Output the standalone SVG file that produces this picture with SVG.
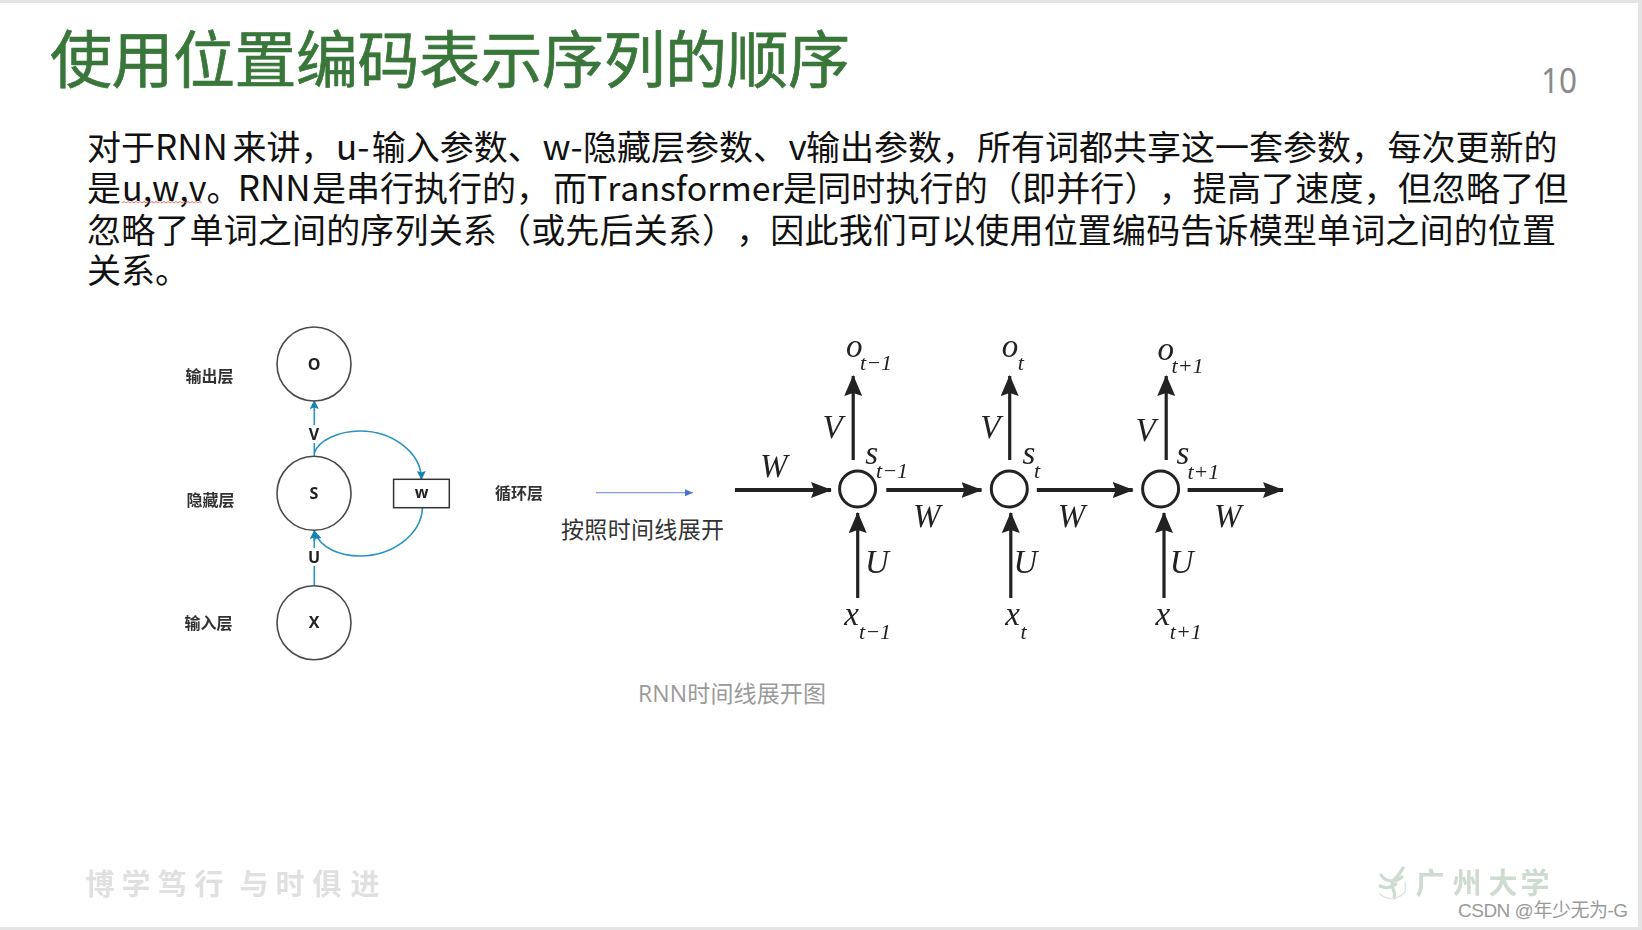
<svg xmlns="http://www.w3.org/2000/svg" width="1642" height="930" viewBox="0 0 1642 930">
<style>
text{font-family:"Liberation Sans","Noto Sans CJK SC",sans-serif}
.cjk{font-family:"Noto Sans CJK SC",sans-serif}
.body{font-size:34px;fill:#111;font-family:"Noto Sans CJK SC",sans-serif;text-spacing-trim:space-all;font-kerning:none}
.lat{font-size:35px}
.lay{font-size:16px;fill:#333;font-weight:700;font-family:"Noto Sans CJK SC",sans-serif;text-anchor:middle}
.cir{fill:#fff;stroke:#4a4a4a;stroke-width:1.6}
.nl{font-size:16px;fill:#222;text-anchor:middle;font-family:"Open Sans",sans-serif;font-weight:700}
.tl{fill:none;stroke:#2a92c2;stroke-width:1.6}
.bl{fill:none;stroke:#222;stroke-width:3.2}
.bh{fill:none;stroke:#222;stroke-width:3.8}
.rc{fill:#fff;stroke:#222;stroke-width:3}
.it{font-family:"Liberation Serif",serif;font-style:italic;fill:#222;text-anchor:middle}
.b{font-size:33px}.s{font-size:22px}
.wm{font-family:"Noto Sans CJK SC",sans-serif;font-weight:700;font-size:29px;fill:#e0e0e0;text-anchor:middle}
.gz{font-family:"Noto Sans CJK SC",sans-serif;font-weight:700;font-size:29px;fill:#cddbd0;text-anchor:middle}
</style>
<defs>
<marker id="at" markerUnits="userSpaceOnUse" markerWidth="10" markerHeight="10" refX="8" refY="4.5" orient="auto"><path d="M0 0L9 4.5L0 9L1.5 4.5z" fill="#1583b8"/></marker>
<marker id="ab" markerUnits="userSpaceOnUse" markerWidth="10" markerHeight="10" refX="8" refY="3.5" orient="auto"><path d="M0 0L8 3.5L0 7z" fill="#4a72cf"/></marker>
<marker id="ak" markerUnits="userSpaceOnUse" markerWidth="24" markerHeight="20" refX="20" refY="9" orient="auto"><path d="M0 0L21 9L0 18L3 9z" fill="#222"/></marker>
<marker id="ah" markerUnits="userSpaceOnUse" markerWidth="24" markerHeight="20" refX="20" refY="8" orient="auto"><path d="M0 0L21 8L0 16L3 8z" fill="#222"/></marker>
<filter id="soft" x="-5%" y="-5%" width="110%" height="110%"><feGaussianBlur stdDeviation="0.45"/></filter>
</defs>
<rect width="1642" height="930" fill="#e4e4e4"/>
<rect x="0" y="3" width="1638" height="924" fill="#fff"/>

<text class="cjk" x="50" y="83" font-size="62" fill="#39763a" stroke="#39763a" stroke-width="0.7" textLength="800" lengthAdjust="spacing">使用位置编码表示序列的顺序</text>
<text x="1541" y="93" font-size="34" fill="#8a8a8a" textLength="36" lengthAdjust="spacingAndGlyphs" style="font-family:'Noto Sans',sans-serif">10</text>

<text class="body" y="160"><tspan x="87">对于</tspan><tspan class="lat" x="155">RNN</tspan><tspan x="232.5">来讲，</tspan><tspan class="lat" x="336">u-</tspan><tspan x="371.8">输入参数、</tspan><tspan class="lat" x="542.5">w-</tspan><tspan x="583">隐藏层参数、</tspan><tspan class="lat" x="788.5">v</tspan><tspan x="806">输出参数，</tspan><tspan x="977">所有词都共享这一套参数，</tspan><tspan x="1387.5">每次更新的</tspan></text>
<text class="body" y="201"><tspan x="87">是</tspan><tspan x="122">u,w,v。</tspan><tspan class="lat" x="237.7">RNN</tspan><tspan x="312">是串行执行的，</tspan><tspan x="553">而</tspan><tspan x="587" font-size="33.8">Transformer</tspan><tspan x="783" letter-spacing="0.15">是同时执行的（即并行），提高了速度，但忽略了但</tspan></text>
<text class="body" x="87" y="243" textLength="1469" lengthAdjust="spacing">忽略了单词之间的序列关系（或先后关系），因此我们可以使用位置编码告诉模型单词之间的位置</text>
<text class="body" x="87" y="283">关系。</text>
<path d="M122 203l2-1.5 2 1.5 2-1.5 2 1.5 2-1.5 2 1.5 2-1.5 2 1.5 2-1.5 2 1.5 2-1.5 2 1.5 2-1.5 2 1.5 2-1.5 2 1.5 2-1.5 2 1.5 2-1.5 2 1.5 2-1.5 2 1.5 2-1.5 2 1.5 2-1.5 2 1.5 2-1.5 2 1.5 2-1.5 2 1.5 2-1.5 2 1.5 2-1.5 2 1.5 2-1.5 2 1.5 2-1.5 2 1.5 2-1.5 2 1.5" fill="none" stroke="#e05050" stroke-width="0.8"/>

<g filter="url(#soft)">
<g id="connectors-rnn">
<path class="tl" d="M314.3 425V401" marker-end="url(#at)"/>
<path class="tl" d="M314.3 456V443"/>
<path class="tl" d="M314.3 453C318 441 338 431 360 431C392 431 421 452 421.4 479" marker-end="url(#at)"/>
<path class="tl" d="M422.5 508C421 535 392 556 360 556C340 556 320 548 315 532" marker-end="url(#at)"/>
<path class="tl" d="M314.3 586V566"/>
<path class="tl" d="M314.3 548V531" marker-end="url(#at)"/>
<path d="M596 492.7H693" fill="none" stroke="#7f9fe0" stroke-width="1.3" marker-end="url(#ab)"/>
</g>
<g id="node-o"><circle class="cir" cx="314" cy="364" r="37"/><text class="nl" x="314" y="369.5">O</text></g>
<g id="node-s"><circle class="cir" cx="314" cy="493.3" r="37"/><text class="nl" x="314" y="498.5">S</text></g>
<g id="node-x"><circle class="cir" cx="314" cy="622.7" r="37"/><text class="nl" x="314" y="628">X</text></g>
<g id="node-w"><rect x="393.6" y="479.3" width="55.7" height="28.4" fill="#fff" stroke="#333" stroke-width="1.5"/><text class="nl" x="421.5" y="498">w</text></g>
<text class="nl" x="314" y="439.5">V</text>
<text class="nl" x="314" y="562.5">U</text>
<text class="lay" x="209.5" y="382">输出层</text>
<text class="lay" x="210.5" y="506">隐藏层</text>
<text class="lay" x="208.5" y="629">输入层</text>
<text class="lay" x="519" y="498.5">循环层</text>
</g>
<text class="cjk" x="561" y="538" font-size="23" fill="#333" textLength="163" lengthAdjust="spacing">按照时间线展开</text>
<text x="638" y="702" font-size="23" fill="#9a9a9a" textLength="188" lengthAdjust="spacing" style="font-family:'Open Sans','Noto Sans CJK SC',sans-serif">RNN时间线展开图</text>

<g filter="url(#soft)">
<g id="connectors-unrolled">
<path class="bh" d="M735 490H831" marker-end="url(#ah)"/>
<path class="bh" d="M886.3 490H981.5" marker-end="url(#ah)"/>
<path class="bh" d="M1036.8 490H1132.7" marker-end="url(#ah)"/>
<path class="bh" d="M1187.6 490H1283" marker-end="url(#ah)"/>
<path class="bl" d="M853.2 460V376" marker-end="url(#ak)"/>
<path class="bl" d="M1009.7 460V376" marker-end="url(#ak)"/>
<path class="bl" d="M1166.2 460V376" marker-end="url(#ak)"/>
<path class="bl" d="M857.7 598V513" marker-end="url(#ak)"/>
<path class="bl" d="M1010.8 598V513" marker-end="url(#ak)"/>
<path class="bl" d="M1164 598V513" marker-end="url(#ak)"/>
</g>
<g id="node-s1"><circle class="rc" cx="857.6" cy="489" r="18"/></g>
<g id="node-s2"><circle class="rc" cx="1009.3" cy="489" r="18"/></g>
<g id="node-s3"><circle class="rc" cx="1160.6" cy="489" r="18"/></g>
<g class="it">
<text class="it b" x="773.7" y="477">W</text><text class="it b" x="926.8" y="527">W</text><text class="it b" x="1071.6" y="527">W</text><text class="it b" x="1227.8" y="527">W</text>
<text class="it b" x="832.6" y="438">V</text><text class="it b" x="990.3" y="438">V</text><text class="it b" x="1145.5" y="441">V</text>
<text class="it b" x="876.9" y="573">U</text><text class="it b" x="1025.4" y="573">U</text><text class="it b" x="1181.6" y="573">U</text>
<text class="it b" x="854.3" y="357">o</text><text class="it s" x="876" y="369.5">t−1</text>
<text class="it b" x="1010" y="357">o</text><text class="it s" x="1020.9" y="369.5">t</text>
<text class="it b" x="1165.7" y="360">o</text><text class="it s" x="1187.6" y="372.5">t+1</text>
<text class="it b" x="871.6" y="464">s</text><text class="it s" x="892" y="477.5">t−1</text>
<text class="it b" x="1029" y="464">s</text><text class="it s" x="1037" y="477.5">t</text>
<text class="it b" x="1182.8" y="464">s</text><text class="it s" x="1203.4" y="478.5">t+1</text>
<text class="it b" x="851.7" y="625">x</text><text class="it s" x="875" y="639">t−1</text>
<text class="it b" x="1012.7" y="625">x</text><text class="it s" x="1023.6" y="639">t</text>
<text class="it b" x="1162.8" y="625">x</text><text class="it s" x="1185.8" y="639">t+1</text>
</g>
</g>

<g filter="url(#soft)">
<text class="wm" x="100" y="895">博</text><text class="wm" x="136" y="895">学</text><text class="wm" x="172" y="895">笃</text><text class="wm" x="209" y="895">行</text><text class="wm" x="254" y="895">与</text><text class="wm" x="290" y="895">时</text><text class="wm" x="327" y="895">俱</text><text class="wm" x="365" y="895">进</text>
<path d="M1403 868C1398 878 1391 880 1392 886C1393 890 1396 892 1394 898M1381 875C1386 883 1396 882 1402 877M1380 886C1386 889 1392 887 1396 884" fill="none" stroke="#cddbd0" stroke-width="3.2" stroke-linecap="round"/>
<path d="M1379 893C1386 901 1398 900 1405 892C1406 889 1406 886 1405 882" fill="none" stroke="#dde6df" stroke-width="1.4"/>
<text class="gz" x="1430" y="894">广</text><text class="gz" x="1467" y="894">州</text><text class="gz" x="1503" y="894">大</text><text class="gz" x="1535" y="894">学</text>
</g>
<text x="1458" y="917" font-size="19" fill="#9a9a9a" textLength="170" lengthAdjust="spacing">CSDN @年少无为-G</text>
</svg>
